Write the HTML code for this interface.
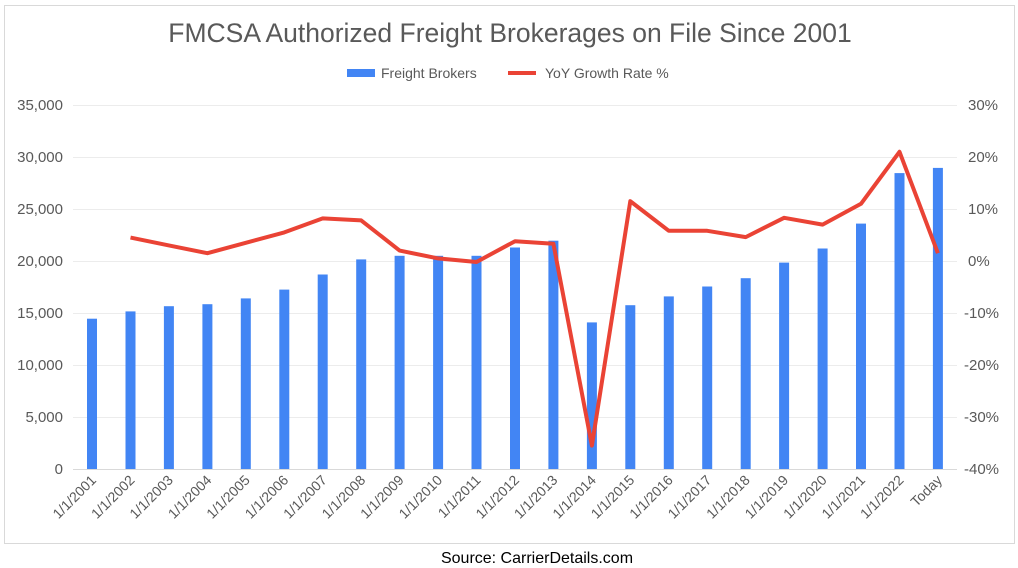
<!DOCTYPE html>
<html><head><meta charset="utf-8"><style>body{margin:0;background:#fff}svg{display:block;font-family:"Liberation Sans",sans-serif}</style></head><body>
<svg width="1018" height="568" viewBox="0 0 1018 568">
<rect x="4.5" y="5.5" width="1010" height="538" fill="#fff" stroke="#d9d9d9"/>
<text x="510" y="42" text-anchor="middle" font-size="26.5" fill="#595959">FMCSA Authorized Freight Brokerages on File Since 2001</text>
<rect x="347" y="69" width="28" height="8" fill="#4285f4"/>
<text x="381" y="78" font-size="14" fill="#595959">Freight Brokers</text>
<line x1="508" y1="73" x2="536" y2="73" stroke="#ea4335" stroke-width="4"/>
<text x="545" y="78" font-size="14" fill="#595959">YoY Growth Rate %</text>
<g stroke="#ececec" stroke-width="1">
<line x1="73" y1="105.5" x2="957" y2="105.5"/><line x1="73" y1="157.5" x2="957" y2="157.5"/><line x1="73" y1="209.5" x2="957" y2="209.5"/><line x1="73" y1="261.5" x2="957" y2="261.5"/><line x1="73" y1="313.5" x2="957" y2="313.5"/><line x1="73" y1="365.5" x2="957" y2="365.5"/><line x1="73" y1="417.5" x2="957" y2="417.5"/>
</g>
<g font-size="15" fill="#595959" text-anchor="end">
<text x="63" y="110">35,000</text><text x="63" y="162">30,000</text><text x="63" y="214">25,000</text><text x="63" y="266">20,000</text><text x="63" y="318">15,000</text><text x="63" y="370">10,000</text><text x="63" y="422">5,000</text><text x="63" y="474">0</text>
</g>
<g font-size="15" fill="#595959" text-anchor="start">
<text x="968" y="110">30%</text><text x="968" y="162">20%</text><text x="968" y="214">10%</text><text x="968" y="266">0%</text><text x="964" y="318">-10%</text><text x="964" y="370">-20%</text><text x="964" y="422">-30%</text><text x="964" y="474">-40%</text>
</g>
<g fill="#4285f4">
<rect x="87" y="318.7" width="10" height="150.3"/><rect x="125.5" y="311.4" width="10" height="157.6"/><rect x="163.9" y="306.2" width="10" height="162.8"/><rect x="202.4" y="304.2" width="10" height="164.8"/><rect x="240.8" y="298.4" width="10" height="170.6"/><rect x="279.3" y="289.6" width="10" height="179.4"/><rect x="317.7" y="274.5" width="10" height="194.5"/><rect x="356.2" y="259.4" width="10" height="209.6"/><rect x="394.6" y="255.8" width="10" height="213.2"/><rect x="433.1" y="255.8" width="10" height="213.2"/><rect x="471.5" y="255.8" width="10" height="213.2"/><rect x="510" y="247.5" width="10" height="221.5"/><rect x="548.4" y="240.7" width="10" height="228.3"/><rect x="586.9" y="322.4" width="10" height="146.6"/><rect x="625.3" y="305.2" width="10" height="163.8"/><rect x="663.8" y="296.4" width="10" height="172.6"/><rect x="702.2" y="286.5" width="10" height="182.5"/><rect x="740.7" y="278.2" width="10" height="190.8"/><rect x="779.1" y="262.6" width="10" height="206.4"/><rect x="817.6" y="248.5" width="10" height="220.5"/><rect x="856" y="223.6" width="10" height="245.4"/><rect x="894.5" y="173.1" width="10" height="295.9"/><rect x="932.9" y="167.9" width="10" height="301.1"/>
</g>
<line x1="73" y1="469.5" x2="957" y2="469.5" stroke="#d9d9d9"/>
<polyline fill="none" stroke="#ea4335" stroke-width="4" stroke-linejoin="round" points="130.5,237.6 168.9,245.4 207.4,253.2 245.8,242.8 284.3,232.4 322.7,218.4 361.2,220.4 399.6,250.6 438.1,258.4 476.5,262 515,241.2 553.4,243.8 591.9,445.6 630.3,201.2 668.8,230.8 707.2,230.8 745.7,237.1 784.1,217.8 822.6,224.6 861,203.8 899.5,151.8 937.9,253.2"/>
<g font-size="14" fill="#595959" text-anchor="end">
<text transform="translate(97,481) rotate(-45)">1/1/2001</text>
<text transform="translate(135.5,481) rotate(-45)">1/1/2002</text>
<text transform="translate(173.9,481) rotate(-45)">1/1/2003</text>
<text transform="translate(212.4,481) rotate(-45)">1/1/2004</text>
<text transform="translate(250.8,481) rotate(-45)">1/1/2005</text>
<text transform="translate(289.3,481) rotate(-45)">1/1/2006</text>
<text transform="translate(327.7,481) rotate(-45)">1/1/2007</text>
<text transform="translate(366.2,481) rotate(-45)">1/1/2008</text>
<text transform="translate(404.6,481) rotate(-45)">1/1/2009</text>
<text transform="translate(443.1,481) rotate(-45)">1/1/2010</text>
<text transform="translate(481.5,481) rotate(-45)">1/1/2011</text>
<text transform="translate(520,481) rotate(-45)">1/1/2012</text>
<text transform="translate(558.4,481) rotate(-45)">1/1/2013</text>
<text transform="translate(596.9,481) rotate(-45)">1/1/2014</text>
<text transform="translate(635.3,481) rotate(-45)">1/1/2015</text>
<text transform="translate(673.8,481) rotate(-45)">1/1/2016</text>
<text transform="translate(712.2,481) rotate(-45)">1/1/2017</text>
<text transform="translate(750.7,481) rotate(-45)">1/1/2018</text>
<text transform="translate(789.1,481) rotate(-45)">1/1/2019</text>
<text transform="translate(827.6,481) rotate(-45)">1/1/2020</text>
<text transform="translate(866,481) rotate(-45)">1/1/2021</text>
<text transform="translate(904.5,481) rotate(-45)">1/1/2022</text>
<text transform="translate(942.9,481) rotate(-45)">Today</text>
</g>
<text x="537" y="563" text-anchor="middle" font-size="16" fill="#000">Source: CarrierDetails.com</text>
</svg>
</body></html>
